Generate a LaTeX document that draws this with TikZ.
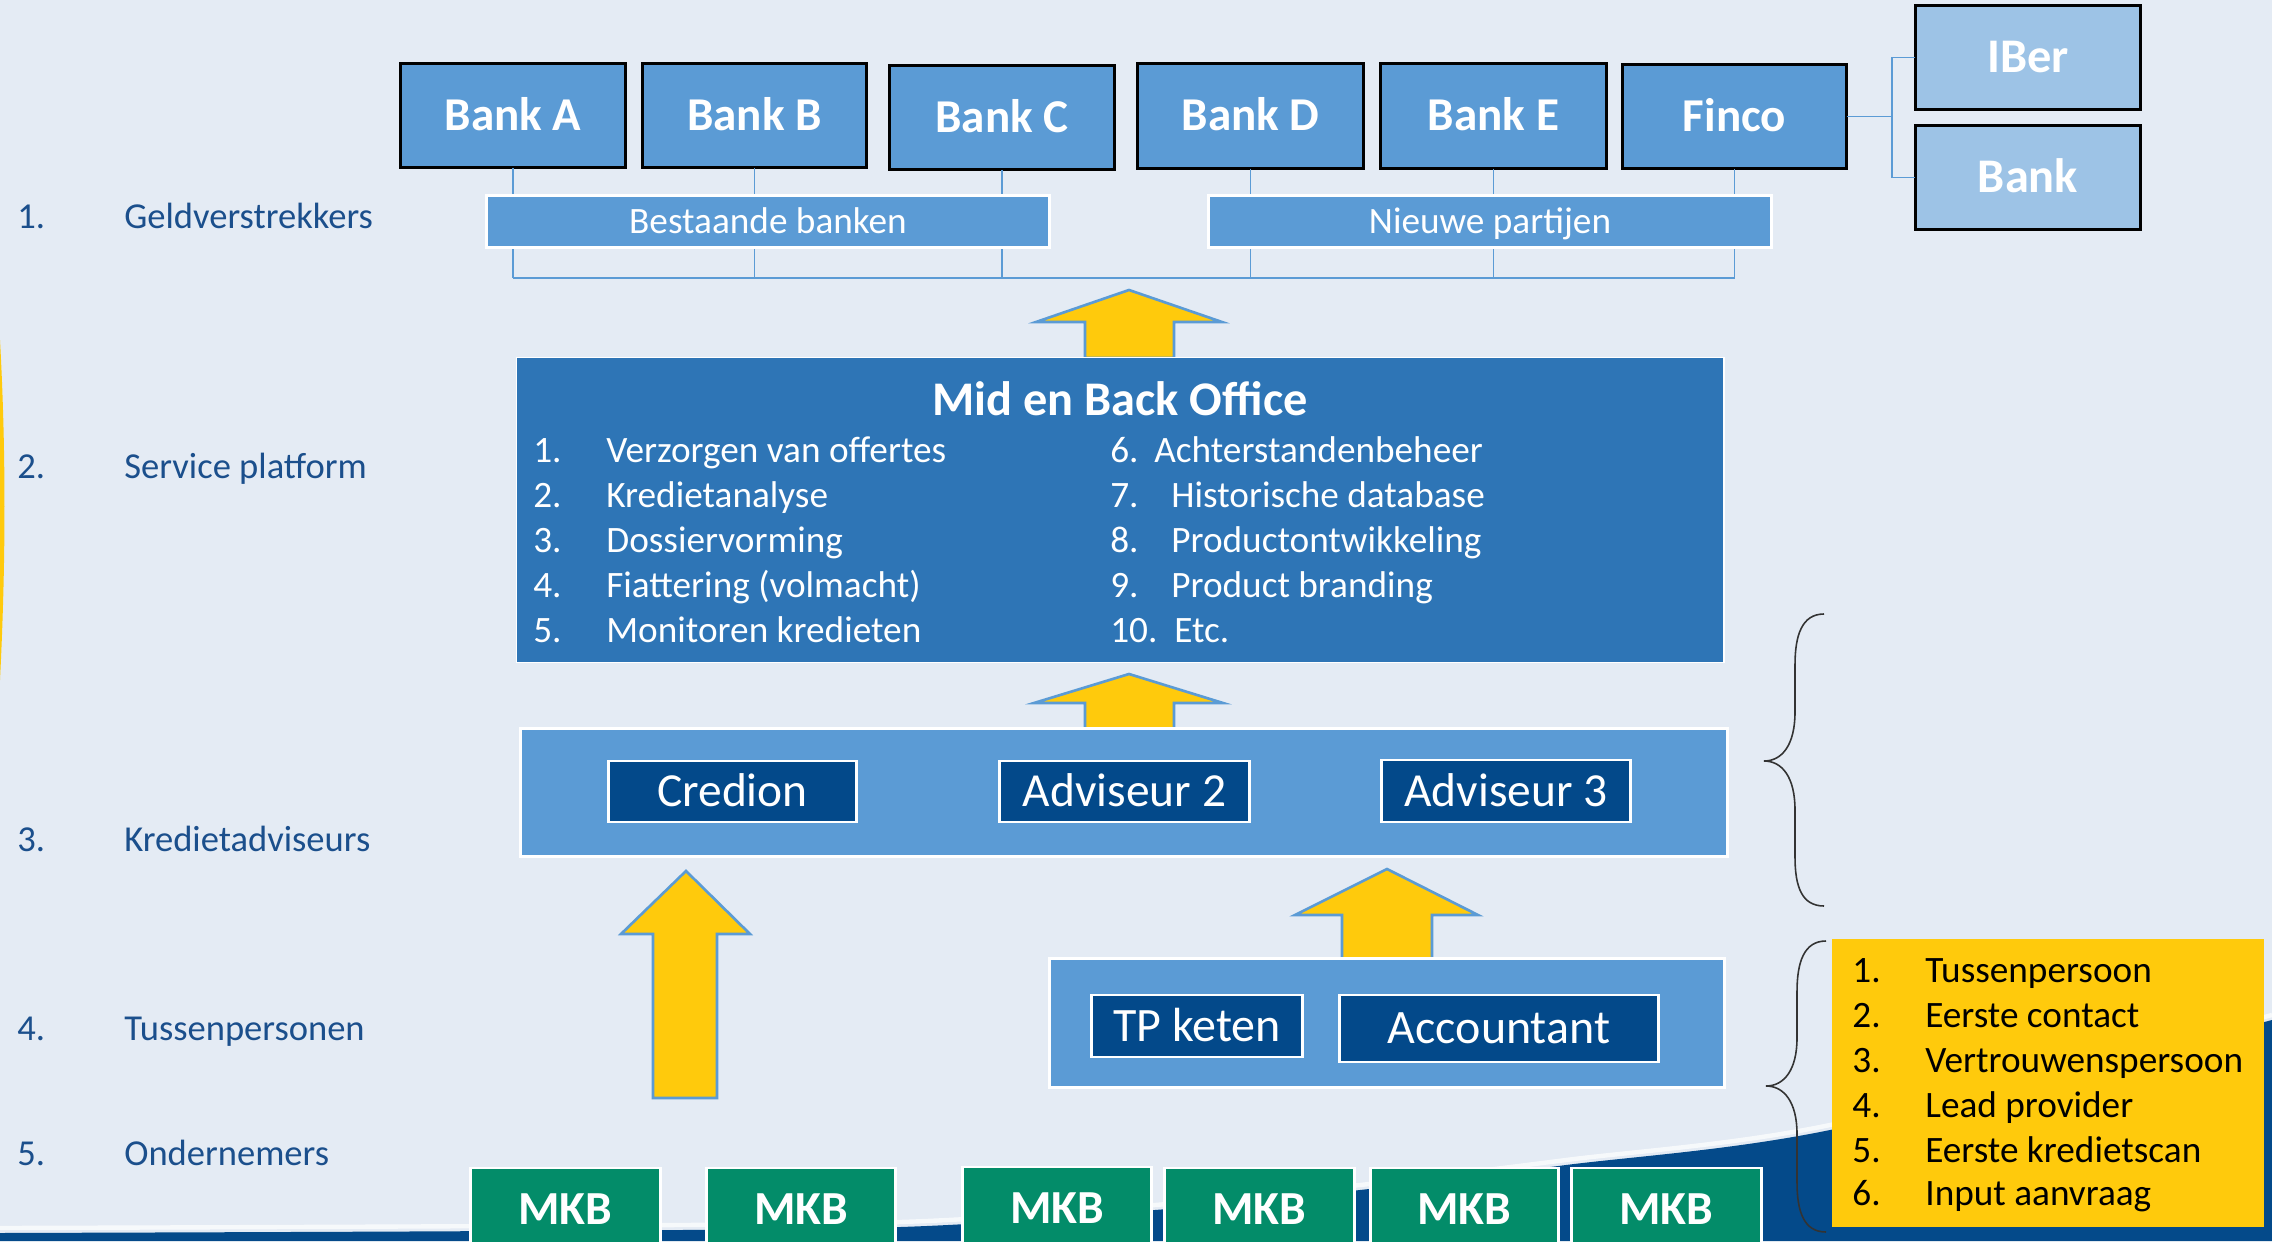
\documentclass[tikz,border=0pt]{standalone}
\usepackage{fontspec}
\setmainfont{Carlito}
\definecolor{bgc}{HTML}{E4EBF4}
\definecolor{bankblue}{HTML}{5B9BD5}
\definecolor{lightblue}{HTML}{9DC3E6}
\definecolor{midblue}{HTML}{2E75B6}
\definecolor{navy}{HTML}{03498A}
\definecolor{mkbgreen}{HTML}{038C69}
\definecolor{goldc}{HTML}{FFCA0C}
\definecolor{labelc}{HTML}{1B4F8C}
\definecolor{wavec}{HTML}{044A8A}
\newcommand\fsBank{\fontsize{26.8pt}{31pt}\selectfont}
\newcommand\fsTitle{\fontsize{27.5pt}{32pt}\selectfont}
\newcommand\fsSmall{\fontsize{21.2pt}{25pt}\selectfont}
\newcommand\fsAdv{\fontsize{27pt}{32pt}\selectfont}
\newcommand\fsTP{\fontsize{27.3pt}{32pt}\selectfont}
\newcommand\fsLeft{\fontsize{20.8pt}{25pt}\selectfont}
\tikzset{
  span/.style n args={4}{at={({(#1+#3)/2},{(#2+#4)/2})}, anchor=center,
     minimum width={(#3-#1)*0.56693pt}, minimum height={(#4-#2)*0.56693pt}},
  txtbox/.style={rectangle, inner sep=0pt, outer sep=0pt, text depth=0pt, align=center},
  bankbox/.style={txtbox, text height=16.9pt, draw=black, line width=1.7pt, fill=bankblue, text=white, font=\bfseries\fsBank},
  sidebox/.style={bankbox, text height=17.4pt, fill=lightblue, font=\bfseries\fsTitle},
  tagbox/.style={txtbox, text height=13.4pt, draw=white, line width=1.7pt, fill=bankblue, text=white, font=\fsSmall},
  panelbox/.style={rectangle, inner sep=0pt, outer sep=0pt, draw=white, line width=1.7pt, fill=bankblue},
  navybox/.style={txtbox, text height=17.1pt, draw=white, line width=1.5pt, fill=navy, text=white, font=\fsAdv},
  tpbox/.style={navybox, text height=17.3pt, font=\fsTP},
  mkbbox/.style={txtbox, text height=17.1pt, draw=white, line width=1.5pt, fill=mkbgreen, text=white, font=\bfseries\fsAdv},
  linkline/.style={draw=bankblue, line width=0.85pt},
  bigarrow/.style={fill=goldc, draw=bankblue, line width=1.5pt, line join=miter},
  bracestyle/.style={draw=black!80, line width=0.9pt},
  lefttext/.style={inner sep=0pt, anchor=base west, text=labelc, font=\fsLeft},
  midtext/.style={inner sep=0pt, anchor=base west, text=white, font=\fsSmall},
  goldtext/.style={inner sep=0pt, anchor=base west, text=black, font=\fsSmall}
}
\begin{document}
\begin{tikzpicture}[x=0.02cm,y=-0.02cm]
\useasboundingbox (0,0) rectangle (2272,1241);
\fill[bgc] (0,0) rectangle (2272,1241);
% left decorative streak
\fill[goldc] (0,340) .. controls (6,450) and (6,560) .. (0,680) -- cycle;
% bottom wave
\fill[wavec] plot[smooth] coordinates {(0,1233)(500,1231)(900,1227)(1155,1210)(1360,1190)(1566,1165)(1830,1130)(2272,1020)} -- (2272,1241) -- (0,1241) -- cycle;
\draw[white, line width=2.5pt, opacity=0.7] plot[smooth] coordinates {(0,1228)(500,1226)(900,1222)(1155,1205)(1360,1185)(1566,1160)(1830,1125)(2272,1015)};

% left labels
\node[lefttext] (n1) at (17,228) {1.};
\node[lefttext] (l1) at (124,228) {Geldverstrekkers};
\node[lefttext] (n2) at (17,478) {2.};
\node[lefttext] (l2) at (124,478) {Service platform};
\node[lefttext] (n3) at (17,851) {3.};
\node[lefttext] (l3) at (124,851) {Kredietadviseurs};
\node[lefttext] (n4) at (17,1040) {4.};
\node[lefttext] (l4) at (124,1040) {Tussenpersonen};
\node[lefttext] (n5) at (17,1165) {5.};
\node[lefttext] (l5) at (124,1165) {Ondernemers};

% banks
\node[bankbox, span={400}{63}{626}{168}] (bankA) {Bank A};
\node[bankbox, span={642}{63}{867}{168}] (bankB) {Bank B};
\node[bankbox, span={889}{65}{1115}{170}] (bankC) {Bank C};
\node[bankbox, span={1137}{63}{1364}{169}] (bankD) {Bank D};
\node[bankbox, span={1380}{63}{1607}{169}] (bankE) {Bank E};
\node[bankbox, span={1622}{64}{1847}{169}] (finco) {Finco};
\node[sidebox, span={1915}{5}{2141}{110}] (iber) {IBer};
\node[sidebox, span={1915}{125}{2141}{230}] (bankR) {Bank};

% bank connectors
\coordinate (busA) at (bankA.south |- 0,278);
\coordinate (busF) at (finco.south |- 0,278);
\draw[linkline] (bankA.south) -- (busA);
\draw[linkline] (bankB.south) -- (bankB.south |- busA);
\draw[linkline] (bankC.south) -- (bankC.south |- busA);
\draw[linkline] (bankD.south) -- (bankD.south |- busA);
\draw[linkline] (bankE.south) -- (bankE.south |- busA);
\draw[linkline] (finco.south) -- (busF);
\draw[linkline] (busA) -- (busF);
\coordinate (fj) at (1892,0);
\draw[linkline] (finco.east) -- (finco.east -| fj);
\draw[linkline] (iber.west) -- (iber.west -| fj) -- (bankR.west -| fj) -- (bankR.west);

\node[tagbox, span={485}{195}{1051}{248}] (tagB) {Bestaande banken};
\node[tagbox, span={1207}{195}{1773}{248}] (tagN) {Nieuwe partijen};

% arrows
\filldraw[bigarrow] (1085,358) -- (1085,322) -- (1036,322) -- (1129,290) -- (1222,322) -- (1174,322) -- (1174,358) -- cycle;
\filldraw[bigarrow] (1085,729) -- (1085,703) -- (1034,703) -- (1129,674) -- (1223,703) -- (1174,703) -- (1174,729) -- cycle;
\filldraw[bigarrow] (653,1098) -- (653,934) -- (621,934) -- (686,871) -- (750,934) -- (717,934) -- (717,1098) -- cycle;
\filldraw[bigarrow] (1342,959) -- (1342,915) -- (1295,915) -- (1387,869) -- (1478,915) -- (1432,915) -- (1432,959) -- cycle;

% mid and back office
\node[panelbox, fill=midblue, line width=1pt, span={514}{357}{1726}{663}] (mid) {};
\node[inner sep=0pt, anchor=base, text=white, font=\bfseries\fsTitle] (midt) at (1120,415) {Mid en Back Office};
\node[midtext] at (533,462) {1.};  \node[midtext] at (606,462) {Verzorgen van offertes};
\node[midtext] at (533,507) {2.};  \node[midtext] at (606,507) {Kredietanalyse};
\node[midtext] at (533,552) {3.};  \node[midtext] at (606,552) {Dossiervorming};
\node[midtext] at (533,597) {4.};  \node[midtext] at (606,597) {Fiattering (volmacht)};
\node[midtext] at (533,642) {5.};  \node[midtext] at (606,642) {Monitoren kredieten};
\node[midtext] at (1110,462) {6.}; \node[midtext] at (1154,462) {Achterstandenbeheer};
\node[midtext] at (1110,507) {7.}; \node[midtext] at (1171,507) {Historische database};
\node[midtext] at (1110,552) {8.}; \node[midtext] at (1171,552) {Productontwikkeling};
\node[midtext] at (1110,597) {9.}; \node[midtext] at (1171,597) {Product branding};
\node[midtext] at (1110,642) {10.}; \node[midtext] at (1174,642) {Etc.};

% kredietadviseurs
\node[panelbox, span={518}{728}{1730}{857}] (kred) {};
\node[navybox, span={608}{761}{857}{822}] (credion) {Credion};
\node[navybox, span={999}{761}{1250}{822}] (adv2) {Adviseur 2};
\node[navybox, span={1381}{760}{1631}{822}] (adv3) {Adviseur 3};

% tussenpersonen
\node[panelbox, span={1048}{958}{1726}{1088}] (tp) {};
\node[tpbox, span={1091}{995}{1303}{1057}] (tpketen) {TP keten};
\node[tpbox, span={1339}{995}{1659}{1062}] (acc) {Accountant};

% MKB
\node[mkbbox, span={470}{1168}{661}{1250}] (m1) {MKB};
\node[mkbbox, span={706}{1168}{896}{1250}] (m2) {MKB};
\node[mkbbox, span={962}{1167}{1152}{1250}] (m3) {MKB};
\node[mkbbox, span={1164}{1168}{1355}{1250}] (m4) {MKB};
\node[mkbbox, span={1370}{1168}{1559}{1250}] (m5) {MKB};
\node[mkbbox, span={1571}{1168}{1762}{1250}] (m6) {MKB};

% yellow list
\node[rectangle, inner sep=0pt, fill=goldc, span={1831}{938}{2265}{1228}] (ylist) {};
\node[goldtext] at (1852,982) {1.};  \node[goldtext] at (1925,982) {Tussenpersoon};
\node[goldtext] at (1852,1027) {2.}; \node[goldtext] at (1925,1027) {Eerste contact};
\node[goldtext] at (1852,1072) {3.}; \node[goldtext] at (1925,1072) {Vertrouwenspersoon};
\node[goldtext] at (1852,1117) {4.}; \node[goldtext] at (1925,1117) {Lead provider};
\node[goldtext] at (1852,1162) {5.}; \node[goldtext] at (1925,1162) {Eerste kredietscan};
\node[goldtext] at (1852,1205) {6.}; \node[goldtext] at (1925,1205) {Input aanvraag};

% braces
\draw[bracestyle] (1824,614) .. controls (1802,614) and (1795,635) .. (1795,665) -- (1795,712) .. controls (1795,745) and (1782,761) .. (1764,761) .. controls (1782,761) and (1795,777) .. (1795,810) -- (1795,857) .. controls (1795,887) and (1802,906) .. (1824,906);
\draw[bracestyle] (1826,941) .. controls (1804,941) and (1797,962) .. (1797,992) -- (1797,1038) .. controls (1797,1070) and (1784,1086) .. (1766,1086) .. controls (1784,1086) and (1797,1102) .. (1797,1134) -- (1797,1182) .. controls (1797,1212) and (1804,1232) .. (1826,1232);
\end{tikzpicture}
\end{document}
